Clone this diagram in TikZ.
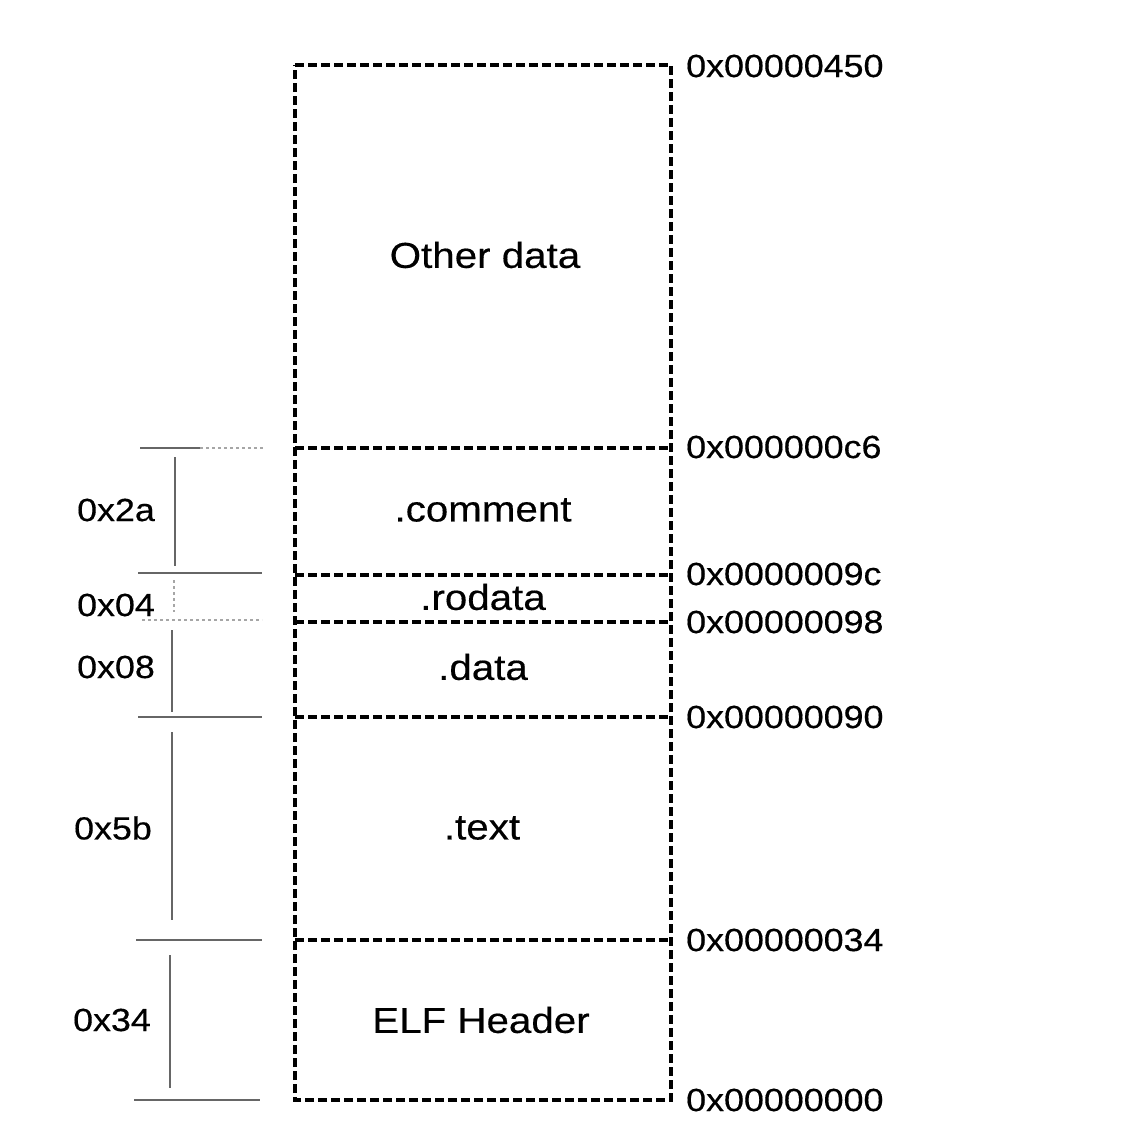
\documentclass[tikz,border=0pt]{standalone}
\usepackage{fontspec}
\setmainfont{Liberation Sans}[FakeStretch=1.12,FakeBold=0.4]
\begin{document}
\begin{tikzpicture}[x=1pt,y=-1pt,
 box/.style={line width=3.2pt, dash pattern=on 9pt off 4pt},
 addr/.style={anchor=west, font=\fontsize{32}{36}\selectfont, inner sep=0pt},
 sect/.style={font=\fontsize{36}{40}\selectfont, inner sep=0pt},
 size/.style={font=\fontsize{32}{36}\selectfont, inner sep=0pt},
 tick/.style={line width=1.3pt, black!60},
 faint/.style={line width=1.3pt, black!35, dash pattern=on 3pt off 3pt},
]
\useasboundingbox (0,0) rectangle (1120,1122);
% box corners
\coordinate (tl) at (295,65);
\coordinate (tr) at (671,65);
\coordinate (bl) at (295,1100);
\coordinate (br) at (671,1100);
\draw[box] (tl) -- (tr) -- (br) -- (bl) -- cycle;
% dividers
\foreach \n/\y in {c6/448,9c/575,98/622,90/717,34/940}{
  \coordinate (l\n) at (295,\y);
  \coordinate (r\n) at (671,\y);
  \draw[box] (l\n) -- (r\n);
}
% addresses
\node[addr] (a450) at (686,66) {0x00000450};
\node[addr] (ac6) at (686,447) {0x000000c6};
\node[addr] (a9c) at (686,574) {0x0000009c};
\node[addr] (a98) at (686,622) {0x00000098};
\node[addr] (a90) at (686,717) {0x00000090};
\node[addr] (a34) at (686,940) {0x00000034};
\node[addr] (a00) at (686,1100) {0x00000000};
% section names
\node[sect] (other) at (485,255) {Other data};
\node[sect] (comment) at (483,510) {.comment};
\node[sect] (rodata) at (483,597) {.rodata};
\node[sect] (data) at (483,667) {.data};
\node[sect] (text) at (482,828) {.text};
\node[sect] (elf) at (481,1020) {ELF Header};
% left size bracket
\coordinate (t1a) at (140,448); \coordinate (t1b) at (200,448); \coordinate (t1c) at (265,448);
\draw[tick] (t1a) -- (t1b);
\draw[faint] (t1b) -- (t1c);
\coordinate (t2a) at (138,573); \coordinate (t2b) at (262,573);
\draw[tick] (t2a) -- (t2b);
\coordinate (t3a) at (142,620); \coordinate (t3b) at (262,620);
\draw[faint] (t3a) -- (t3b);
\coordinate (t4a) at (138,717); \coordinate (t4b) at (262,717);
\draw[tick] (t4a) -- (t4b);
\coordinate (t5a) at (136,940); \coordinate (t5b) at (262,940);
\draw[tick] (t5a) -- (t5b);
\coordinate (t6a) at (134,1100); \coordinate (t6b) at (260,1100);
\draw[tick] (t6a) -- (t6b);
% verticals
\coordinate (v1a) at (175,457); \coordinate (v1b) at (175,566);
\draw[tick] (v1a) -- (v1b);
\coordinate (v2a) at (174,580); \coordinate (v2b) at (174,612);
\draw[faint] (v2a) -- (v2b);
\coordinate (v3a) at (172,630); \coordinate (v3b) at (172,712);
\draw[tick] (v3a) -- (v3b);
\coordinate (v4a) at (172,732); \coordinate (v4b) at (172,920);
\draw[tick] (v4a) -- (v4b);
\coordinate (v5a) at (170,955); \coordinate (v5b) at (170,1088);
\draw[tick] (v5a) -- (v5b);
% size labels
\node[size] (s2a) at (116,510) {0x2a};
\node[size] (s04) at (116,605) {0x04};
\node[size] (s08) at (116,667) {0x08};
\node[size] (s5b) at (113,828) {0x5b};
\node[size] (s34) at (112,1020) {0x34};
\end{tikzpicture}
\end{document}
